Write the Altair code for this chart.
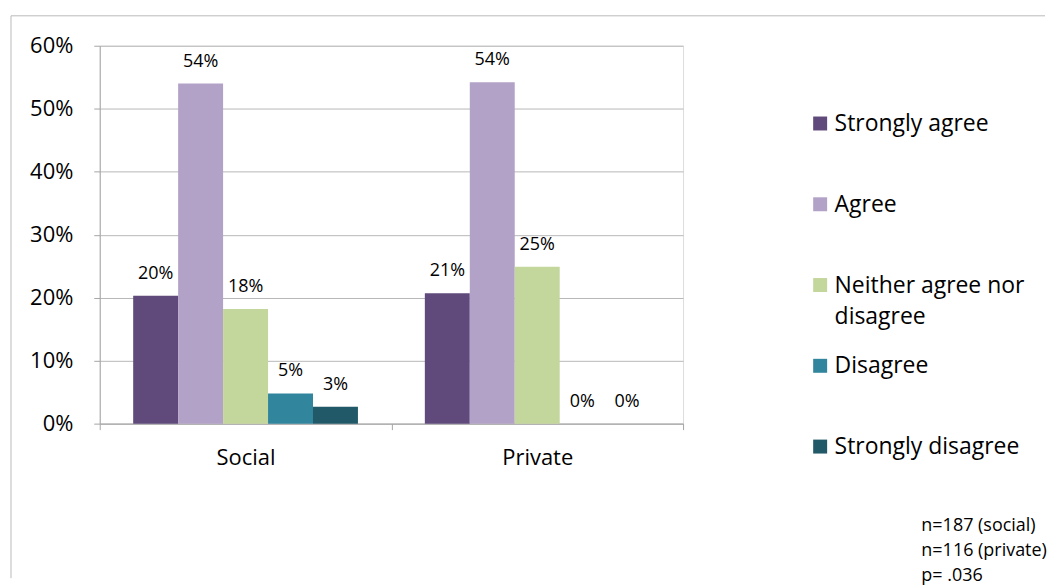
import altair as alt
import pandas as pd

groups = ["Social", "Private"]
responses = ["Strongly agree", "Agree", "Neither agree nor disagree", "Disagree", "Strongly disagree"]
social = [0.203, 0.540, 0.182, 0.048, 0.027]
private = [0.207, 0.542, 0.249, 0.0, 0.0]
colors = ["#604A7B", "#B3A2C7", "#C3D69B", "#31859C", "#215968"]
y_ticks = [0, 0.1, 0.2, 0.3, 0.4, 0.5, 0.6]
note_lines = ["n=187 (social)", "n=116 (private)", "p= .036"]

rows = []
for g, vals in zip(groups, [social, private]):
    for r, v in zip(responses, vals):
        rows.append({"group": g, "response": r, "value": v})
df = pd.DataFrame(rows)
one = alt.Data(values=[{"k": 1}])

FONT = "Open Sans"
GRAY = "#A6A6A6"

x = alt.X(
    "group:N",
    sort=groups,
    scale=alt.Scale(paddingInner=0, paddingOuter=0),
    axis=alt.Axis(
        title=None, labelAngle=0, tickBand="extent", tickSize=6,
        domainColor=GRAY, tickColor=GRAY, labelFontSize=22, labelFont=FONT,
        labelColor="black", labelPadding=18, grid=False,
    ),
)
xo = alt.XOffset(
    "response:N", sort=responses,
    scale=alt.Scale(paddingInner=0, paddingOuter=0.744),
)
y = alt.Y(
    "value:Q",
    scale=alt.Scale(domain=[0, 0.6]),
    axis=alt.Axis(
        title=None, values=y_ticks, format=".0%", tickSize=6,
        domainColor=GRAY, tickColor=GRAY, gridColor="#B8B8B8",
        labelFontSize=22, labelFont=FONT, labelColor="black", labelPadding=21,
    ),
)
color = alt.Color(
    "response:N", sort=responses,
    scale=alt.Scale(domain=responses, range=colors),
    legend=alt.Legend(
        title=None, orient="none", legendX=711, legendY=56,
        symbolType="M-1,0.5H1V2.5H-1Z", symbolSize=196, symbolStrokeWidth=0,
        labelFont=FONT, labelFontSize=23, labelColor="black",
        labelLimit=400, gridAlign="all", rowPadding=14,
        labelBaseline="top", labelOffset=3,
        labelExpr="datum.label == 'Neither agree nor disagree' ? ['Neither agree nor', 'disagree'] : datum.label",
    ),
)

bars = alt.Chart(df).mark_bar().encode(x=x, xOffset=xo, y=y, color=color)
labels = alt.Chart(df).mark_text(dy=-22, fontSize=18, font=FONT, color="black").encode(
    x=x, xOffset=xo, y=y, text=alt.Text("value:Q", format=".0%")
)

border_top = alt.Chart(one).mark_rule(color="#BBBBBB", strokeWidth=1).encode(
    x=alt.value(-89), x2=alt.value(948), y=alt.value(-30)
)
border_left = alt.Chart(one).mark_rule(color="#BBBBBB", strokeWidth=1).encode(
    x=alt.value(-89), y=alt.value(-30), y2=alt.value(534)
)
note = alt.Chart(one).mark_text(
    text=note_lines, align="left", baseline="top", fontSize=18, font=FONT,
    fontWeight="normal", color="black", lineHeight=25,
).encode(x=alt.value(824), y=alt.value(473))

chart = alt.layer(bars, labels, border_top, border_left, note).properties(
    width=585, height=379,
    padding={"left": 2, "top": 6, "right": 0, "bottom": 0},
).configure_view(stroke=None).configure(
    font=FONT, style={"guide-label": {"lineHeight": 32}}
)

chart.save("out.html", embed_options={"renderer": "svg", "actions": False})
